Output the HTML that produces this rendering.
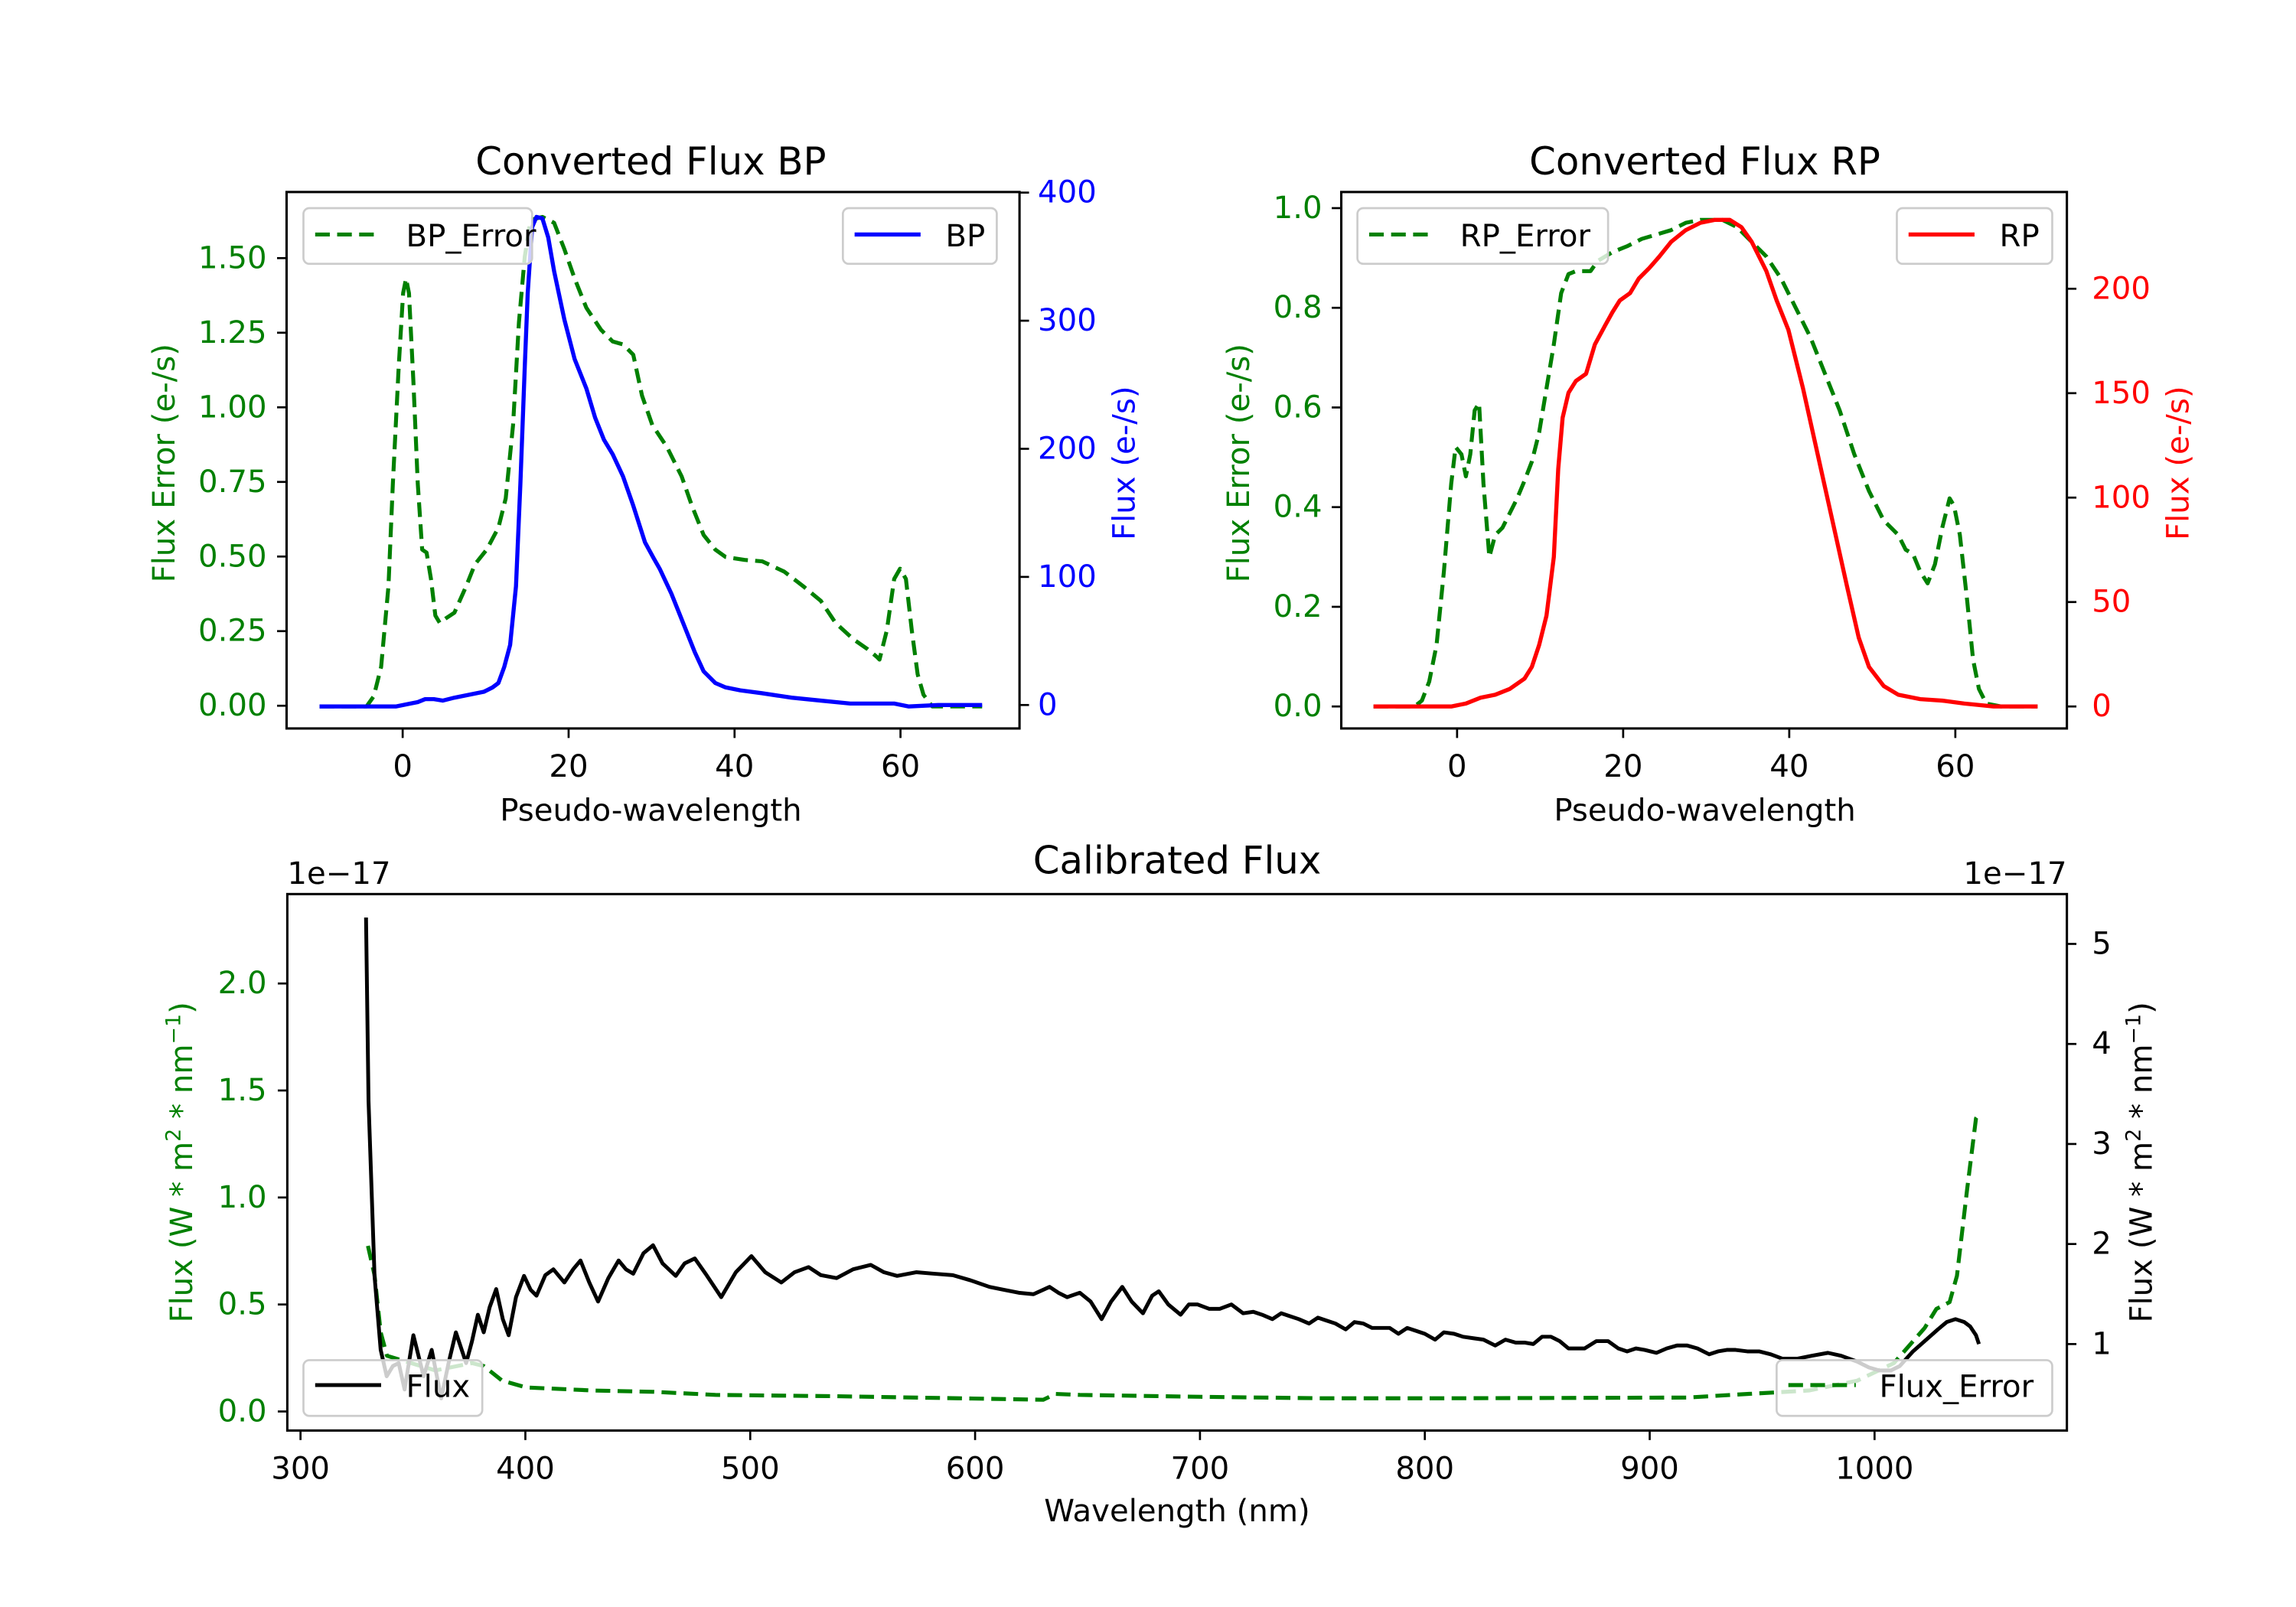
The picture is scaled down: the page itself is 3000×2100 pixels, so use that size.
<!DOCTYPE html>
<html><head><meta charset="utf-8"><style>
html,body{margin:0;padding:0;background:#fff;}
svg{display:block;}
text{font-family:"DejaVu Sans","Liberation Sans",sans-serif;}
</style></head><body>
<svg width="3000" height="2100" viewBox="0 0 1566.3 1096.4" preserveAspectRatio="none" xmlns="http://www.w3.org/2000/svg">
<rect width="1566.3" height="1096.4" fill="#fff"/>
<g font-size="21">
<!-- ============ BP PANEL ============ -->
<text x="444" y="119" text-anchor="middle" font-size="26">Converted Flux BP</text>
<g fill="none" stroke-linejoin="round">
<polyline stroke="green" stroke-width="2.7" stroke-dasharray="10,5" points="218,482 250,482 255,475 260,455 265,400 268,330 272,250 275,200 277,190 279,200 282,260 285,330 288,375 291,377 294,395 297,420 300,425 304,422 310,418 318,400 324,385 332,375 340,360 345,340 350,290 354,220 358,175 362,150 370,148 378,152 385,170 392,190 400,210 410,225 418,233 425,235 432,242 438,270 445,290 455,305 465,325 472,345 480,365 488,375 495,380 508,382 520,383 535,390 548,400 560,410 570,425 582,436 592,443 598,448 600,450 605,430 610,395 614,388 618,395 622,430 626,460 630,474 636,482 670,482"/>
<polyline stroke="blue" stroke-width="2.8" points="218,482 270,482 280,480 285,479 290,477 296,477 302,478 310,476 320,474 330,472 336,469 340,466 344,455 348,440 352,400 355,330 358,250 360,200 363,155 366,148 370,149 374,162 378,185 385,218 392,245 400,265 406,285 412,300 418,310 425,325 432,345 440,370 446,381 450,388 458,405 466,425 474,445 480,458 488,466 495,469 505,471 520,473 540,476 560,478 580,480 610,480 620,482 640,481 670,481"/>
</g>
<rect x="195.5" y="131" width="500" height="366" fill="none" stroke="#000" stroke-width="1.6"/>
<g stroke="#000" stroke-width="1.4">
<line x1="195.5" x2="189" y1="481.5" y2="481.5"/><line x1="195.5" x2="189" y1="430.6" y2="430.6"/><line x1="195.5" x2="189" y1="379.7" y2="379.7"/><line x1="195.5" x2="189" y1="328.8" y2="328.8"/><line x1="195.5" x2="189" y1="277.9" y2="277.9"/><line x1="195.5" x2="189" y1="227" y2="227"/><line x1="195.5" x2="189" y1="176.1" y2="176.1"/>
<line x1="695.5" x2="702" y1="481" y2="481"/><line x1="695.5" x2="702" y1="393.6" y2="393.6"/><line x1="695.5" x2="702" y1="306.2" y2="306.2"/><line x1="695.5" x2="702" y1="218.8" y2="218.8"/><line x1="695.5" x2="702" y1="131.4" y2="131.4"/>
<line y1="497" y2="503.5" x1="274.7" x2="274.7"/><line y1="497" y2="503.5" x1="387.9" x2="387.9"/><line y1="497" y2="503.5" x1="501.1" x2="501.1"/><line y1="497" y2="503.5" x1="614.3" x2="614.3"/>
</g>
<g fill="green" text-anchor="end" dominant-baseline="central">
<text x="182" y="481.5">0.00</text><text x="182" y="430.6">0.25</text><text x="182" y="379.7">0.50</text><text x="182" y="328.8">0.75</text><text x="182" y="277.9">1.00</text><text x="182" y="227">1.25</text><text x="182" y="176.1">1.50</text>
</g>
<g fill="blue" dominant-baseline="central">
<text x="708" y="481">0</text><text x="708" y="393.6">100</text><text x="708" y="306.2">200</text><text x="708" y="218.8">300</text><text x="708" y="131.4">400</text>
</g>
<g text-anchor="middle">
<text x="274.7" y="530">0</text><text x="387.9" y="530">20</text><text x="501.1" y="530">40</text><text x="614.3" y="530">60</text>
<text x="444" y="560">Pseudo-wavelength</text>
</g>
<text transform="translate(119,316) rotate(-90)" text-anchor="middle" fill="green">Flux Error (e-/s)</text>
<text transform="translate(774,316) rotate(-90)" text-anchor="middle" fill="blue">Flux (e-/s)</text>
<rect x="207" y="142" width="156" height="38" rx="4" fill="#fff" fill-opacity="0.8" stroke="#ccc" stroke-width="1.4"/>
<line x1="215" x2="260" y1="160" y2="160" stroke="green" stroke-width="2.7" stroke-dasharray="10,5"/>
<text x="277" y="168">BP_Error</text>
<rect x="575" y="142" width="105" height="38" rx="4" fill="#fff" fill-opacity="0.8" stroke="#ccc" stroke-width="1.4"/>
<line x1="583" x2="628" y1="160" y2="160" stroke="blue" stroke-width="2.8"/>
<text x="645" y="168">BP</text>

<!-- ============ RP PANEL ============ -->
<text x="1163" y="119" text-anchor="middle" font-size="26">Converted Flux RP</text>
<g fill="none" stroke-linejoin="round">
<polyline stroke="green" stroke-width="2.7" stroke-dasharray="10,5" points="937,482 965,482 970,478 975,465 980,440 985,390 990,330 993,305 997,310 1000,325 1003,310 1006,280 1009,275 1012,330 1016,380 1020,365 1025,360 1030,350 1035,340 1040,328 1045,315 1050,295 1055,265 1060,235 1065,200 1070,187 1075,185 1085,185 1090,178 1100,172 1110,168 1120,163 1130,160 1140,157 1150,152 1160,150 1175,150 1185,155 1195,165 1205,175 1215,190 1225,210 1235,230 1245,255 1255,280 1265,310 1275,335 1285,355 1295,365 1300,375 1305,378 1310,390 1315,398 1320,385 1325,360 1330,340 1333,345 1337,365 1342,410 1346,450 1350,470 1355,480 1365,482 1390,482"/>
<polyline stroke="red" stroke-width="2.8" points="937,482 975,482 990,482 1000,480 1010,476 1020,474 1030,470 1040,463 1045,455 1050,440 1055,420 1060,380 1063,320 1066,285 1070,268 1075,260 1082,255 1088,235 1095,222 1100,213 1105,205 1112,200 1118,190 1125,183 1132,175 1140,165 1150,157 1160,152 1170,150 1180,150 1188,155 1195,165 1205,185 1212,205 1220,225 1230,265 1240,310 1250,355 1260,400 1268,435 1275,455 1285,468 1295,474 1310,477 1325,478 1340,480 1360,482 1390,482"/>
</g>
<rect x="915" y="131" width="495" height="366" fill="none" stroke="#000" stroke-width="1.6"/>
<g stroke="#000" stroke-width="1.4">
<line x1="915" x2="908.5" y1="482" y2="482"/><line x1="915" x2="908.5" y1="414" y2="414"/><line x1="915" x2="908.5" y1="346" y2="346"/><line x1="915" x2="908.5" y1="278" y2="278"/><line x1="915" x2="908.5" y1="210" y2="210"/><line x1="915" x2="908.5" y1="142" y2="142"/>
<line x1="1410" x2="1416.5" y1="482" y2="482"/><line x1="1410" x2="1416.5" y1="410.75" y2="410.75"/><line x1="1410" x2="1416.5" y1="339.5" y2="339.5"/><line x1="1410" x2="1416.5" y1="268.25" y2="268.25"/><line x1="1410" x2="1416.5" y1="197" y2="197"/>
<line y1="497" y2="503.5" x1="994" x2="994"/><line y1="497" y2="503.5" x1="1107.3" x2="1107.3"/><line y1="497" y2="503.5" x1="1220.6" x2="1220.6"/><line y1="497" y2="503.5" x1="1333.9" x2="1333.9"/>
</g>
<g fill="green" text-anchor="end" dominant-baseline="central">
<text x="902" y="482">0.0</text><text x="902" y="414">0.2</text><text x="902" y="346">0.4</text><text x="902" y="278">0.6</text><text x="902" y="210">0.8</text><text x="902" y="142">1.0</text>
</g>
<g fill="red" dominant-baseline="central">
<text x="1427" y="482">0</text><text x="1427" y="410.75">50</text><text x="1427" y="339.5">100</text><text x="1427" y="268.25">150</text><text x="1427" y="197">200</text>
</g>
<g text-anchor="middle">
<text x="994" y="530">0</text><text x="1107.3" y="530">20</text><text x="1220.6" y="530">40</text><text x="1333.9" y="530">60</text>
<text x="1163" y="560">Pseudo-wavelength</text>
</g>
<text transform="translate(852,316) rotate(-90)" text-anchor="middle" fill="green">Flux Error (e-/s)</text>
<text transform="translate(1493,316) rotate(-90)" text-anchor="middle" fill="red">Flux (e-/s)</text>
<rect x="926" y="142" width="171" height="38" rx="4" fill="#fff" fill-opacity="0.8" stroke="#ccc" stroke-width="1.4"/>
<line x1="934" x2="979" y1="160" y2="160" stroke="green" stroke-width="2.7" stroke-dasharray="10,5"/>
<text x="996" y="168">RP_Error</text>
<rect x="1294" y="142" width="106" height="38" rx="4" fill="#fff" fill-opacity="0.8" stroke="#ccc" stroke-width="1.4"/>
<line x1="1302" x2="1347" y1="160" y2="160" stroke="red" stroke-width="2.8"/>
<text x="1364" y="168">RP</text>

<!-- ============ CALIBRATED PANEL ============ -->
<text x="803" y="596" text-anchor="middle" font-size="26">Calibrated Flux</text>
<text x="196" y="603">1e−17</text>
<text x="1410" y="603" text-anchor="end">1e−17</text>
<g fill="none" stroke-linejoin="round">
<polyline stroke="green" stroke-width="2.7" stroke-dasharray="10,5" points="251,850 255.5,870 259.7,909 264,925 297,935 322,930 330,932 342.6,942 359,946.6 405,948.7 446,949.6 488,951.7 571,952.6 653.6,954 711.7,955 720,951 736.6,951.7 819.5,953 902.5,954 985,954 1151,953.5 1193,951 1234,948.7 1267,942 1292,930 1313,906 1321,893 1330,888.4 1335,870.5 1342,811 1348,763 1350,760"/>
<polyline stroke="#000" stroke-width="2.6" points="249.7,626 251.4,751 255.5,870.5 259.7,921 263.8,939 268,932 272,930 276,948 282,911 289,939 294.5,921 301,954 306,930 311,909 318,930 322,915 326,897 330,909 334,892 338.5,879.5 343,900 347,911 352,885 357.5,870.5 362,880 366,884 372,870 377.5,866 385,875 391,866 396,860 402,875 408,888 415,872 422,860 427,866 432,869 439,855 445.5,849.6 452,862 461,870.5 467,862 474,858.6 482,870 492,885 502,868 512.6,857 522,868 533,875 542,868 551.6,864.5 560,870 570.7,872 582,866 594,863 603,868 612,870.5 625,868 637,869 650,870 662,873.5 675,878 685,880 695,882 705,883 716,878 722,882 728,885 736.6,882 744,888 751.5,900 758,888 765.6,878 772,888 779.7,896 786,884 790.5,881 797,890 805.4,897 811,890 817,890 825,893 832,893 840,890 848,896 855,895 861,897 868,900 874,896 880,898 886,900 893,903 899,899 905,901 911,903 918,907 924,902 930,903 936,906 942,906 948,906 954,910 960,906 966,908 972,910 979,914 985,909 992,910 998,912 1005,913 1012,914 1020,918 1027,914 1034,916 1040,916 1046,917 1052,912 1058,912 1064,915 1070,920 1076,920 1081,920 1089,915 1097,915 1104,920 1110,922 1116,920 1122,921 1130,923 1137,920 1144,918 1151,918 1158,920 1166,924 1172,922 1178,921 1184,921 1192,922 1200,922 1208,924 1216,927 1226,927 1236,925 1247,923 1256,925 1267,929 1275,933 1282,935 1290,935 1296,932 1305,922 1313,915 1322,907 1328,902 1334,900 1340,902 1344,905 1348,911 1350,917"/>
</g>
<rect x="196" y="610" width="1214" height="366" fill="none" stroke="#000" stroke-width="1.6"/>
<g stroke="#000" stroke-width="1.4">
<line x1="196" x2="189.5" y1="963" y2="963"/><line x1="196" x2="189.5" y1="890" y2="890"/><line x1="196" x2="189.5" y1="817" y2="817"/><line x1="196" x2="189.5" y1="744" y2="744"/><line x1="196" x2="189.5" y1="671" y2="671"/>
<line x1="1410" x2="1416.5" y1="917" y2="917"/><line x1="1410" x2="1416.5" y1="848.75" y2="848.75"/><line x1="1410" x2="1416.5" y1="780.5" y2="780.5"/><line x1="1410" x2="1416.5" y1="712.25" y2="712.25"/><line x1="1410" x2="1416.5" y1="644" y2="644"/>
<line y1="976" y2="982.5" x1="205" x2="205"/><line y1="976" y2="982.5" x1="358.4" x2="358.4"/><line y1="976" y2="982.5" x1="511.8" x2="511.8"/><line y1="976" y2="982.5" x1="665.2" x2="665.2"/><line y1="976" y2="982.5" x1="818.6" x2="818.6"/><line y1="976" y2="982.5" x1="972" x2="972"/><line y1="976" y2="982.5" x1="1125.4" x2="1125.4"/><line y1="976" y2="982.5" x1="1278.8" x2="1278.8"/>
</g>
<g fill="green" text-anchor="end" dominant-baseline="central">
<text x="182" y="963">0.0</text><text x="182" y="890">0.5</text><text x="182" y="817">1.0</text><text x="182" y="744">1.5</text><text x="182" y="671">2.0</text>
</g>
<g dominant-baseline="central">
<text x="1427" y="917">1</text><text x="1427" y="848.75">2</text><text x="1427" y="780.5">3</text><text x="1427" y="712.25">4</text><text x="1427" y="644">5</text>
</g>
<g text-anchor="middle">
<text x="205" y="1009">300</text><text x="358.4" y="1009">400</text><text x="511.8" y="1009">500</text><text x="665.2" y="1009">600</text><text x="818.6" y="1009">700</text><text x="972" y="1009">800</text><text x="1125.4" y="1009">900</text><text x="1278.8" y="1009">1000</text>
<text x="803" y="1038">Wavelength (nm)</text>
</g>
<text transform="translate(131,793) rotate(-90)" text-anchor="middle" fill="green">Flux (W * m<tspan font-size="14" dy="-8">2</tspan><tspan dy="8"> * nm</tspan><tspan font-size="14" dy="-8">−1</tspan><tspan dy="8">)</tspan></text>
<text transform="translate(1468,793) rotate(-90)" text-anchor="middle">Flux (W * m<tspan font-size="14" dy="-8">2</tspan><tspan dy="8"> * nm</tspan><tspan font-size="14" dy="-8">−1</tspan><tspan dy="8">)</tspan></text>
<rect x="207" y="928" width="122" height="38" rx="4" fill="#fff" fill-opacity="0.8" stroke="#ccc" stroke-width="1.4"/>
<line x1="215" x2="260" y1="945" y2="945" stroke="#000" stroke-width="2.6"/>
<text x="277" y="953">Flux</text>
<rect x="1212" y="928" width="188" height="38" rx="4" fill="#fff" fill-opacity="0.8" stroke="#ccc" stroke-width="1.4"/>
<line x1="1220" x2="1266" y1="945" y2="945" stroke="green" stroke-width="2.7" stroke-dasharray="10,5"/>
<text x="1282" y="953">Flux_Error</text>
</g>
</svg>
</body></html>
